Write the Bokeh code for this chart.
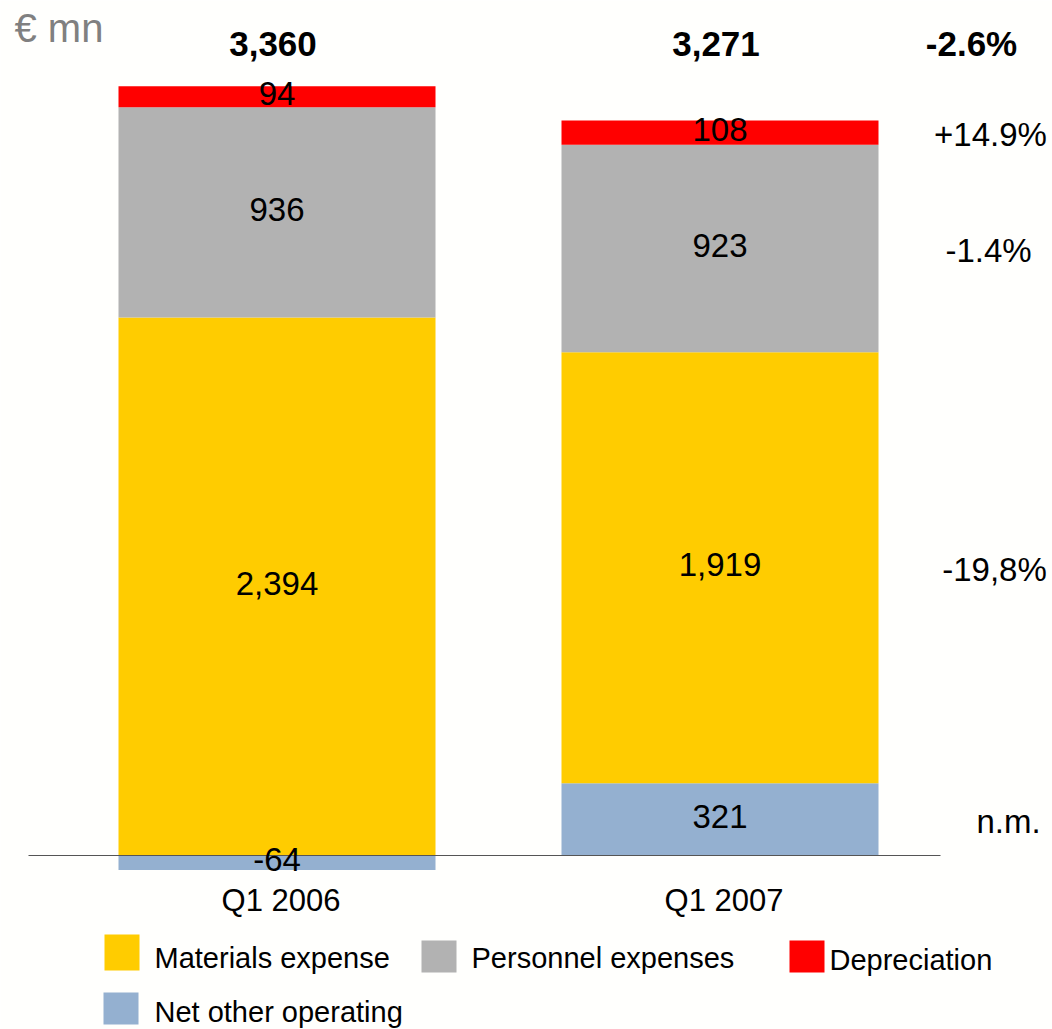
from bokeh.plotting import figure
from bokeh.models import Range1d
from bokeh.core.properties import value
from bokeh.embed import file_html
from bokeh.resources import INLINE

# ---------------- data ----------------
periods = ["Q1 2006", "Q1 2007"]
materials = [2394, 1919]
personnel = [936, 923]
depreciation = [94, 108]
net_other = [-64, 321]
totals = ["3,360", "3,271"]
total_change = "-2.6%"
changes = ["+14.9%", "-1.4%", "-19,8%", "n.m."]   # depreciation, personnel, materials, net other
series_names = ["Materials expense", "Personnel expenses", "Depreciation", "Net other operating"]
unit_label = "€ mn"

# ---------------- style ----------------
C_MAT = "#FFCC00"
C_PER = "#B2B2B2"
C_DEP = "#FF0000"
C_NET = "#94B0D0"
BG = "#FFFFFD"
FONT = value("Liberation Sans")

W, H = 1052, 1029
X0PX, DXPX = 276.5, 443.0      # pixel of first category, pixel spacing
Y0PX, SY = 855.0, 0.2247       # pixel of zero line, pixels per € mn


def xd(px):
    return (px - X0PX) / DXPX


def yd(py):
    return (Y0PX - py) / SY


p = figure(width=W, height=H, output_backend="svg", toolbar_location=None,
           x_range=Range1d(xd(0), xd(W)), y_range=Range1d(yd(H), yd(0)),
           x_axis_location=None, y_axis_location=None, min_border=0)
p.grid.visible = False
p.outline_line_color = None
p.background_fill_color = BG
p.border_fill_color = BG

xs = list(range(len(periods)))
bw = 317.0 / DXPX

base = [max(n, 0) for n in net_other]
mat_top = [b + m for b, m in zip(base, materials)]
per_top = [t + v for t, v in zip(mat_top, personnel)]
dep_top = [t + v for t, v in zip(per_top, depreciation)]

p.vbar(x=xs, width=bw, bottom=0, top=net_other, fill_color=C_NET, line_color=None)
p.vbar(x=xs, width=bw, bottom=base, top=mat_top, fill_color=C_MAT, line_color=None)
p.vbar(x=xs, width=bw, bottom=mat_top, top=per_top, fill_color=C_PER, line_color=None)
p.vbar(x=xs, width=bw, bottom=per_top, top=dep_top, fill_color=C_DEP, line_color=None)

# zero line
p.segment(x0=[xd(28)], y0=[0], x1=[xd(940)], y1=[0], line_color="#555555", line_width=1)

# segment labels
lab_x, lab_y, lab_t = [], [], []
for i in xs:
    segs = [(0, net_other[i]), (base[i], mat_top[i]), (mat_top[i], per_top[i]), (per_top[i], dep_top[i])]
    vals = [net_other[i], materials[i], personnel[i], depreciation[i]]
    for (b, t), v in zip(segs, vals):
        lab_x.append(i)
        lab_y.append((b + t) / 2)
        lab_t.append(f"{v:,}")
p.text(x=lab_x, y=lab_y, text=lab_t, text_align="center", text_baseline="middle",
       text_font=FONT, text_font_size="33px", text_color="#000000", y_offset=-3)

# totals
p.text(x=xs, y=[yd(43)] * 2, text=totals, text_align="center", text_baseline="middle",
       text_font=FONT, text_font_size="35px", text_font_style="bold", text_color="#000000",
       x_offset=-4)
p.text(x=[xd(971)], y=[yd(43)], text=[total_change], text_align="center", text_baseline="middle",
       text_font=FONT, text_font_size="35px", text_font_style="bold", text_color="#000000")

# change column aligned with Q1 2007 segments
i = 1
mids = [(per_top[i] + dep_top[i]) / 2, (mat_top[i] + per_top[i]) / 2,
        (base[i] + mat_top[i]) / 2, net_other[i] / 2]
chg_xpx = [990, 988, 994, 1008]
p.text(x=[xd(v) for v in chg_xpx], y=mids, text=changes, text_align="center", text_baseline="middle",
       text_font=FONT, text_font_size="33px", text_color="#000000", y_offset=2)

# unit label
p.text(x=[xd(14)], y=[yd(27)], text=[unit_label], text_align="left", text_baseline="middle",
       text_font=FONT, text_font_size="40px", text_color="#808080")

# category labels
p.text(x=xs, y=[yd(900)] * 2, text=periods, text_align="center", text_baseline="middle",
       text_font=FONT, text_font_size="31px", text_color="#000000", x_offset=4)

# legend (manual)
leg_colors = [C_MAT, C_PER, C_DEP, C_NET]
sw_l = [104, 421, 789, 103]
sw_t = [934, 940, 940, 992]
sw_b = [970, 972, 972, 1024]
sw_r = [139, 456, 824, 138]
txt_x = [154, 471, 829, 154]
txt_y = [957, 957, 959, 1011]
p.quad(left=[xd(v) for v in sw_l], right=[xd(v) for v in sw_r],
       top=[yd(v) for v in sw_t], bottom=[yd(v) for v in sw_b],
       fill_color=leg_colors, line_color=None)
p.text(x=[xd(v) for v in txt_x], y=[yd(v) for v in txt_y], text=series_names,
       text_align="left", text_baseline="middle", text_font=FONT, text_font_size="29px",
       text_color="#000000")

open("out.html", "w").write(file_html(p, INLINE))
